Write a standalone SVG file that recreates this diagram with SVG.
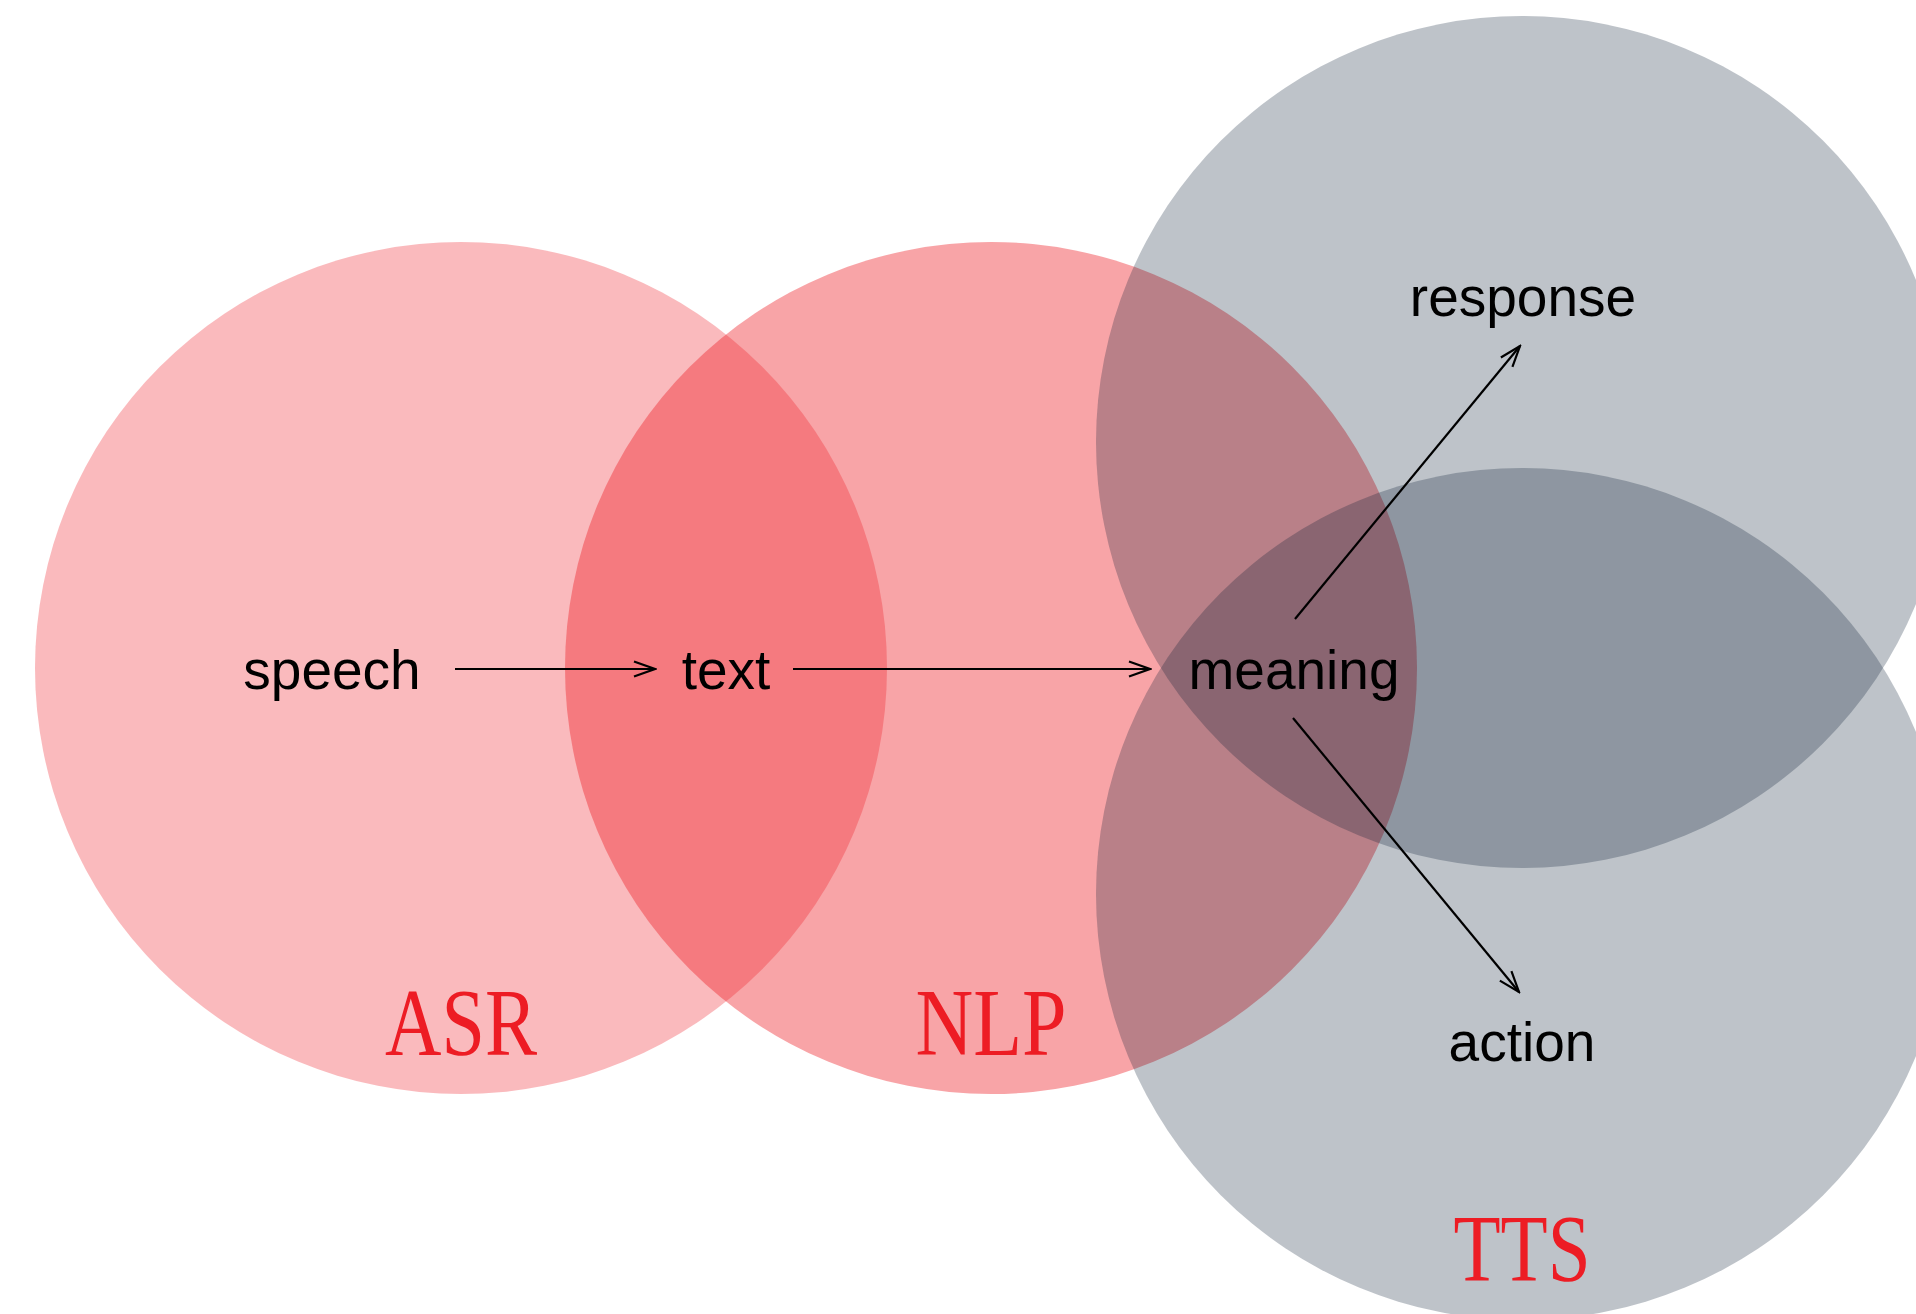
<svg xmlns="http://www.w3.org/2000/svg" width="1916" height="1314" viewBox="0 0 1916 1314">
<style>
.red{fill:#ED1C24}
.gray{fill:#071A31;fill-opacity:0.262}
.lbl{font-family:"Liberation Sans",Arial,sans-serif;font-size:55px;fill:#000;text-anchor:middle}
.title{font-family:"Liberation Serif","Times New Roman",serif;font-size:96px;fill:#ED1C24;text-anchor:middle}
.conn{stroke:#000;stroke-width:2.2;fill:none;marker-end:url(#arr)}
</style>
<defs>
<marker id="arr" markerWidth="24" markerHeight="18" refX="22" refY="9" orient="auto" markerUnits="userSpaceOnUse" viewBox="0 0 24 18">
<path d="M1,1.5 L22,9 L1,16.5" fill="none" stroke="#000" stroke-width="2.2"/>
</marker>
</defs>
<rect width="1916" height="1314" fill="#fff"/>
<g id="asr">
<circle cx="461" cy="668" r="426" class="red" fill-opacity="0.3"/>
<text x="461" y="1055" class="title" textLength="152" lengthAdjust="spacingAndGlyphs">ASR</text>
</g>
<g id="nlp">
<circle cx="991" cy="668" r="426" class="red" fill-opacity="0.4"/>
</g>
<g id="tts">
<circle cx="1522" cy="442" r="426" class="gray"/>
<circle cx="1522" cy="894" r="426" class="gray"/>
</g>
<g id="labels">
<text x="991" y="1055" class="title" textLength="151" lengthAdjust="spacingAndGlyphs">NLP</text>
<text x="1522" y="1281" class="title" textLength="137" lengthAdjust="spacingAndGlyphs">TTS</text>
</g>
<g id="node-speech"><text x="332" y="689" class="lbl">speech</text></g>
<g id="node-text"><text x="726" y="689" class="lbl">text</text></g>
<g id="node-meaning"><text x="1294" y="689" class="lbl">meaning</text></g>
<g id="node-response"><text x="1523" y="316" class="lbl">response</text></g>
<g id="node-action"><text x="1522" y="1061" class="lbl">action</text></g>
<g id="connectors">
<line x1="455" y1="669" x2="655" y2="669" class="conn"/>
<line x1="793" y1="669" x2="1150" y2="669" class="conn"/>
<line x1="1295" y1="619" x2="1520" y2="346" class="conn"/>
<line x1="1293" y1="718" x2="1519" y2="992" class="conn"/>
</g>
</svg>
